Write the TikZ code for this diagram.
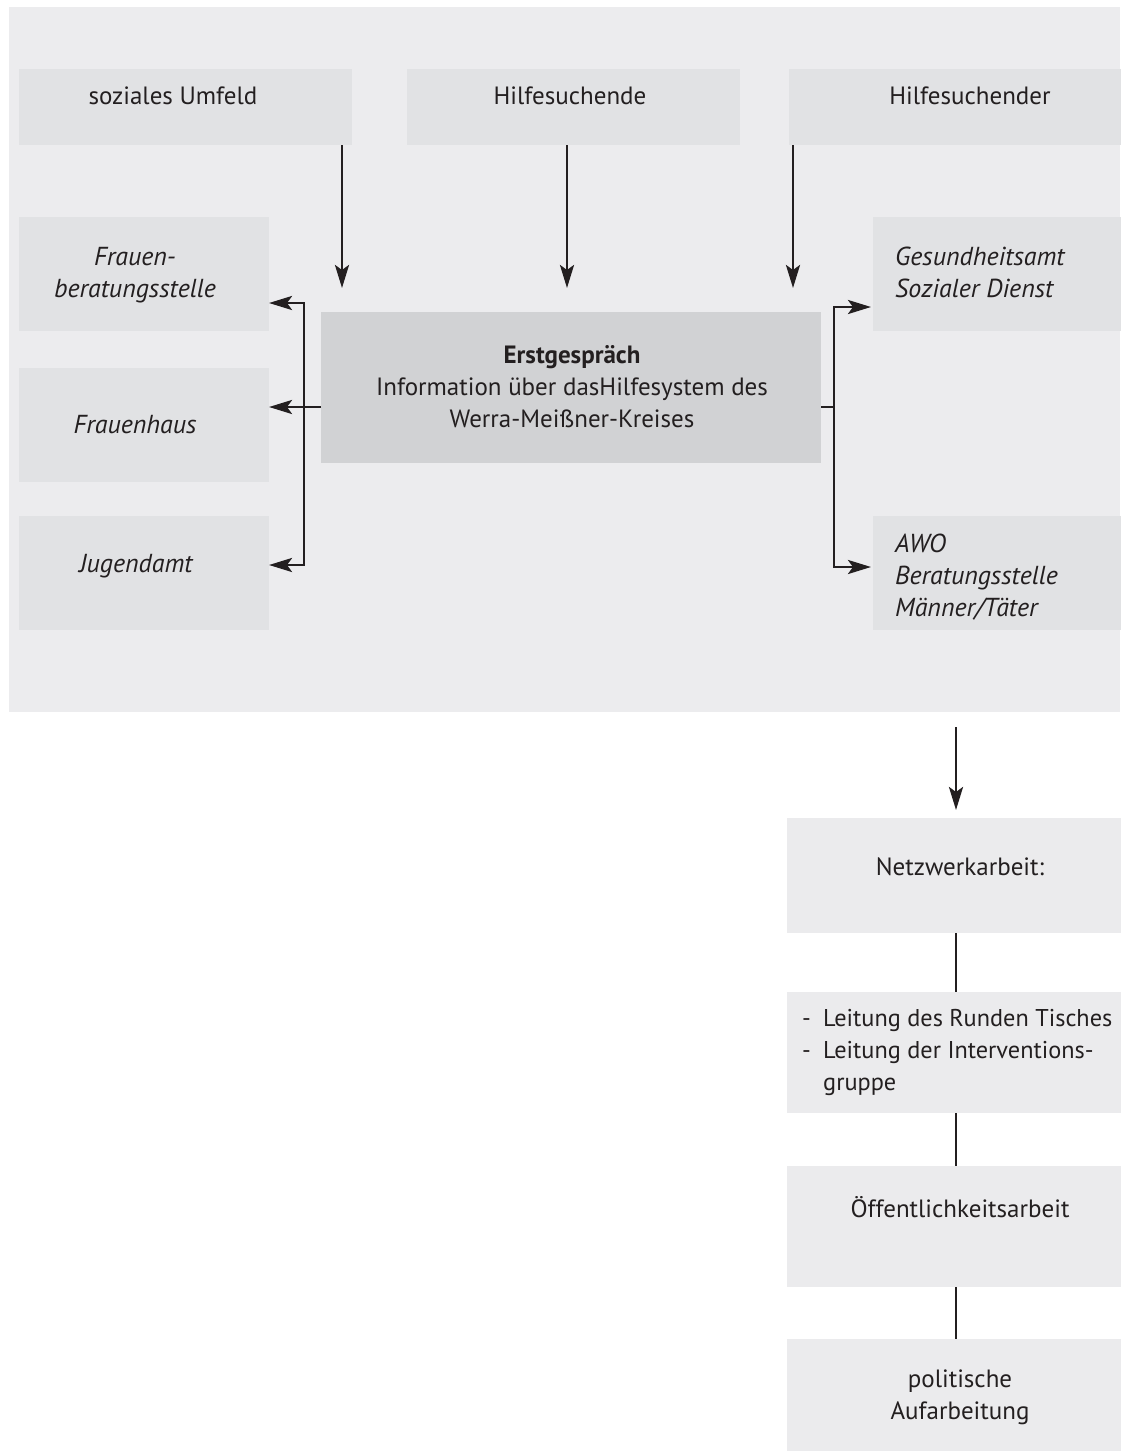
\documentclass[tikz,border=0pt]{standalone}
\usepackage{fontspec}
\setmainfont{PT Sans}
\usetikzlibrary{arrows.meta,calc}
\definecolor{bgc}{RGB}{236,236,238}
\definecolor{boxc}{RGB}{225,226,228}
\definecolor{cenc}{RGB}{209,210,212}
\definecolor{lowc}{RGB}{235,235,237}
\definecolor{linec}{RGB}{35,31,32}
\definecolor{txtc}{RGB}{35,31,32}
\newcommand{\tl}[2]{\begin{tabular}[t]{@{}#1@{}}#2\end{tabular}}
\begin{document}
\begin{tikzpicture}[x=1pt,y=-1pt,
  boxn/.style={draw=none, fill=boxc, rectangle, inner sep=0pt, outer sep=0pt, anchor=north west},
  lown/.style={boxn, fill=lowc},
  cenn/.style={boxn, fill=cenc},
  txt/.style={font=\fontsize{25}{32}\selectfont, text=txtc, inner sep=0pt, anchor=base},
  itx/.style={txt, font=\fontsize{26}{32}\selectfont\itshape},
  arr/.style={draw=linec, line width=2.9pt, -{Stealth[length=23pt,width=14pt,inset=5pt]}},
  ln/.style={draw=linec, line width=2.9pt}]
\useasboundingbox (0,0) rectangle (1120,1451);
\fill[white] (0,0) rectangle (1120,1451);
\fill[bgc] (9,7) rectangle (1120,712);
% boxes
\node[boxn, minimum width=333pt, minimum height=76pt] (su) at (19,69) {};
\node[boxn, minimum width=333pt, minimum height=76pt] (hf) at (407,69) {};
\node[boxn, minimum width=340pt, minimum height=76pt] (hm) at (789,69) {};
\node[boxn, minimum width=250pt, minimum height=114pt] (fb) at (19,217) {};
\node[boxn, minimum width=250pt, minimum height=114pt] (fh) at (19,368) {};
\node[boxn, minimum width=250pt, minimum height=114pt] (ja) at (19,516) {};
\node[cenn, minimum width=500pt, minimum height=151pt] (eg) at (321,312) {};
\node[boxn, minimum width=260pt, minimum height=114pt] (ga) at (873,217) {};
\node[boxn, minimum width=260pt, minimum height=114pt] (awo) at (873,516) {};
\node[lown, minimum width=340pt, minimum height=115pt] (nw) at (787,818) {};
\node[lown, minimum width=340pt, minimum height=121pt] (lt) at (787,992) {};
\node[lown, minimum width=340pt, minimum height=121pt] (oe) at (787,1166) {};
\node[lown, minimum width=340pt, minimum height=112pt] (pa) at (787,1339) {};
% texts
\node[txt] (tsu) at (173,104) {soziales Umfeld};
\node[txt] (thf) at (570,104) {Hilfesuchende};
\node[txt] (thm) at (970,104) {Hilfesuchender};
\node[itx] (tfb) at (135,265) {\tl{c}{Frauen-\\beratungsstelle}};
\node[itx] (tfh) at (135,433) {Frauenhaus};
\node[itx] (tja) at (136,572) {Jugendamt};
\node[txt] (teg) at (572,363) {\tl{c}{\textbf{Erstgespräch}\\Information über dasHilfesystem des\\Werra-Meißner-Kreises}};
\node[itx, anchor=base west] (tga) at (895,265) {\tl{l}{Gesundheitsamt\\Sozialer Dienst}};
\node[itx, anchor=base west] (tawo) at (895,552) {\tl{l}{AWO\\Beratungsstelle\\Männer/Täter}};
\node[txt] (tnw) at (960,875) {Netzwerkarbeit:};
\node[txt, font=\fontsize{24.3}{32}\selectfont, anchor=base west] (tlt) at (802,1026) {\tl{l}{\makebox[21pt][l]{-}Leitung des Runden Tisches\\\makebox[21pt][l]{-}Leitung der Interventions-\\\hspace*{21pt}gruppe}};
\node[txt] (toe) at (960,1217) {Öffentlichkeitsarbeit};
\node[txt] (tpa) at (960,1387) {\tl{c}{politische\\Aufarbeitung}};
% connectors top
\coordinate (lb) at (304,407);
\coordinate (rb) at (834,407);
\draw[arr] ([xshift=-10pt]su.south east) -- ++(0,143);
\draw[arr] ([xshift=-6.5pt]hf.south) -- ++(0,143);
\draw[arr] ([xshift=4pt]hm.south west) -- ++(0,143);
% left bracket
\draw[ln] (eg.west |- lb) -- (lb);
\draw[arr] (lb) |- ($(fb.east |- lb)+(0,-104)$);
\draw[arr] (lb) -- (fh.east |- lb);
\draw[arr] (lb) |- ($(ja.east |- lb)+(0,158)$);
% right bracket
\draw[ln] (eg.east |- rb) -- (rb);
\draw[arr] (rb) |- ($(ga.west |- rb)+(-2,-100)$);
\draw[arr] (rb) |- ($(awo.west |- rb)+(-2,160)$);
% lower chain
\coordinate (a0) at (956,727);
\draw[arr, shorten >=8pt] (a0) -- (a0 |- nw.north);
\draw[ln] (a0 |- nw.south) -- (a0 |- lt.north);
\draw[ln] (a0 |- lt.south) -- (a0 |- oe.north);
\draw[ln] (a0 |- oe.south) -- (a0 |- pa.north);
\end{tikzpicture}
\end{document}
